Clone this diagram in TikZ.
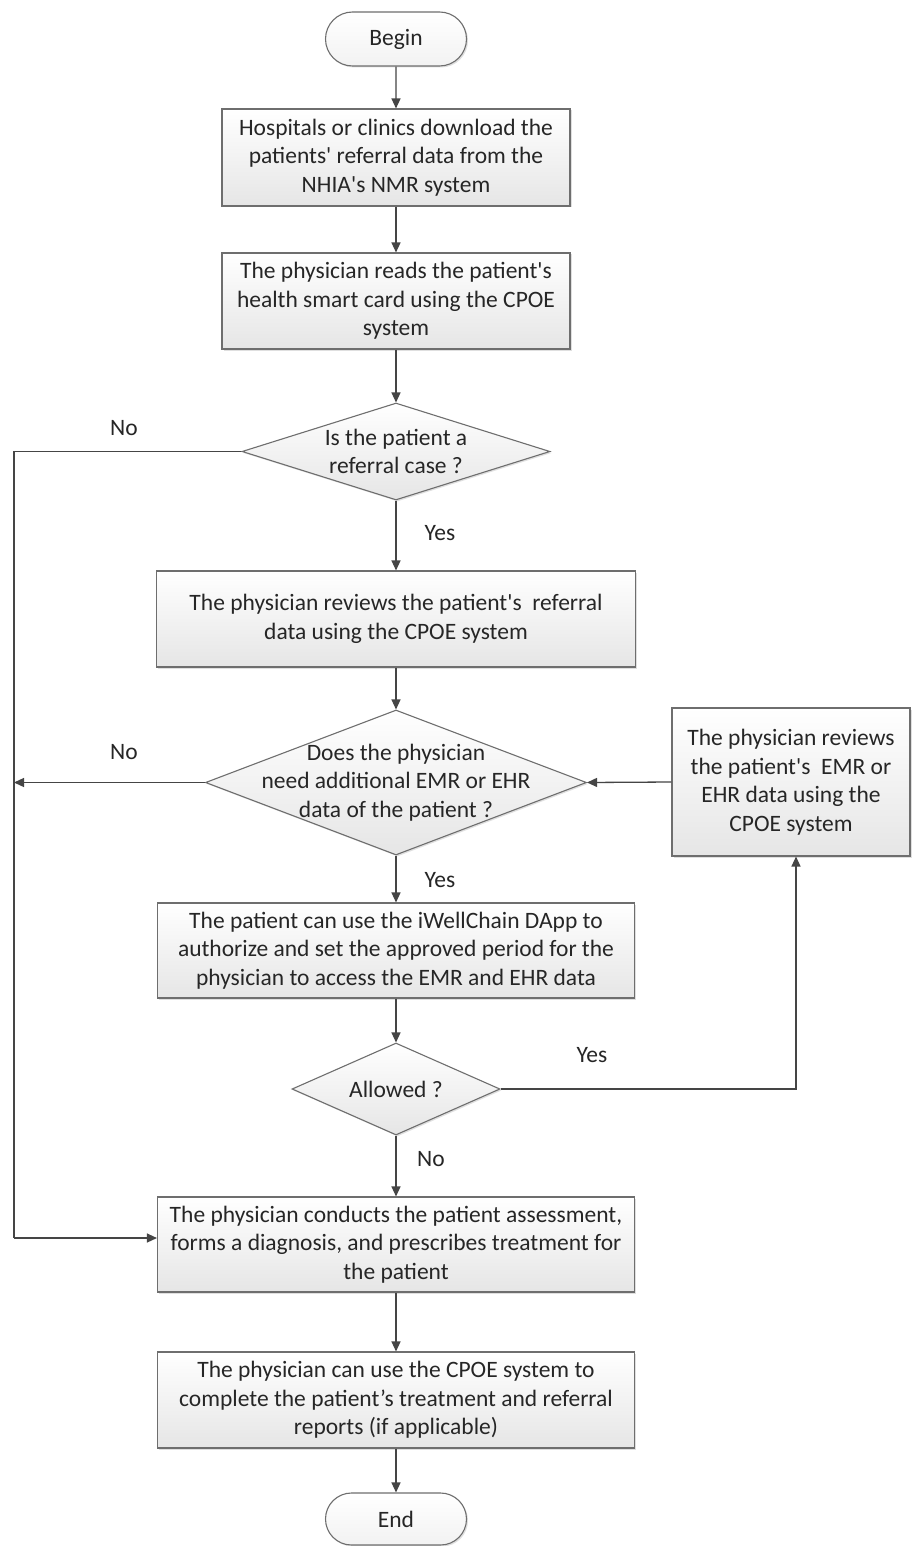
\documentclass[tikz,border=0pt]{standalone}
\usepackage{fontspec}
\setmainfont{Carlito}
\usetikzlibrary{shapes.geometric,shapes.misc,arrows.meta,shadows}
\definecolor{edge}{HTML}{6E6E6E}
\definecolor{arr}{HTML}{454545}
\definecolor{txt}{HTML}{262626}
\newcommand{\q}{\textquotesingle}
\tikzset{
  base/.style={draw=edge, line width=1.1pt, top color=white, bottom color=black!10, text=txt, font=\fontsize{23.5}{28.5}\selectfont, align=center, inner sep=0pt,
    drop shadow={opacity=0.25, shadow xshift=1.5pt, shadow yshift=-1.5pt}},
  procbox/.style={base, rectangle},
  term/.style={base, rounded rectangle, bottom color=black!5},
  decide/.style={base, diamond, inner sep=0pt},
  dtext/.style={text=txt, font=\fontsize{23.5}{28.5}\selectfont, align=center},
  link/.style={draw=arr, line width=1.3pt, -{Triangle[length=10pt,width=9pt]}},
  plain/.style={draw=arr, line width=1.3pt},
  lbl/.style={text=txt, font=\fontsize{23.5}{28}\selectfont}
}
\begin{document}
\begin{tikzpicture}[x=1pt,y=-1pt]
\useasboundingbox (0,0) rectangle (912,1546);
\fill[white] (0,0) rectangle (912,1546);

\node[term, minimum width=141pt, minimum height=54pt] (begin) at (396,39) {Begin};
\node[procbox, minimum width=348pt, minimum height=97pt] (b1) at (396,157.5) {Hospitals or clinics download the\\patients\q{} referral data from the\\NHIA\q{}s NMR system};
\node[procbox, minimum width=348pt, minimum height=96pt] (b2) at (396,301) {The physician reads the patient\q{}s\\health smart card using the CPOE\\system};
\node[decide, minimum width=308pt, minimum height=97pt] (d1) at (396,451.5) {};
\node[dtext] (t1) at (d1) {Is the patient a\\referral case ?};
\node[procbox, minimum width=479pt, minimum height=96pt] (b3) at (396,619) {The physician reviews the patient\q{}s\ \ referral\\data using the CPOE system};
\node[decide, minimum width=381pt, minimum height=145pt] (d2) at (396,782.5) {};
\node[dtext] (t2) at (d2) {Does the physician\\need additional EMR or EHR\\data of the patient ?};
\node[procbox, minimum width=238pt, minimum height=148pt] (rb) at (791,782) {The physician reviews\\the patient\q{}s\ \ EMR or\\EHR data using the\\CPOE system};
\node[procbox, minimum width=477pt, minimum height=95pt] (b4) at (396,950.5) {The patient can use the iWellChain DApp to\\authorize and set the approved period for the\\physician to access the EMR and EHR data};
\node[decide, minimum width=208pt, minimum height=92pt] (d3) at (396,1089) {};
\node[dtext] (t3) at (d3) {Allowed ?};
\node[procbox, minimum width=477pt, minimum height=95pt] (b5) at (396,1244.5) {The physician conducts the patient assessment,\\forms a diagnosis, and prescribes treatment for\\the patient};
\node[procbox, minimum width=477pt, minimum height=96pt] (b6) at (396,1400) {The physician can use the CPOE system to\\complete the patient’s treatment and referral\\reports (if applicable)};
\node[term, minimum width=141pt, minimum height=52pt] (end) at (396,1519) {End};

\coordinate (lx1) at (14,451.5);
\coordinate (lx2) at (14,782.5);
\coordinate (lx3) at (14,1238);
\coordinate (ry) at (796,1089);

\draw[link] (begin) -- (b1);
\draw[link] (b1) -- (b2);
\draw[link] (b2) -- (d1.north);
\draw[link] (d1.south) -- (b3);
\draw[link] (b3) -- (d2.north);
\draw[link] (d2.south) -- (b4);
\draw[link] (b4) -- (d3.north);
\draw[link] (d3.south) -- (b5);
\draw[link] (b5) -- (b6);
\draw[link] (b6) -- (end);
\draw[plain] (d1.west) -- (lx1) -- (lx3);
\draw[link] (lx3) -- (b5.west |- lx3);
\draw[link] (d2.west) -- (lx2);
\draw[link] (rb.west) -- (d2.east);
\draw[link] (d3.east) -- (ry) -- (rb.south -| ry);

\node[lbl] (n1) at (124,428) {No};
\node[lbl] (y1) at (440,533) {Yes};
\node[lbl] (n2) at (124,752) {No};
\node[lbl] (y2) at (440,880) {Yes};
\node[lbl] (y3) at (592,1055) {Yes};
\node[lbl] (n3) at (431,1159) {No};
\end{tikzpicture}
\end{document}
